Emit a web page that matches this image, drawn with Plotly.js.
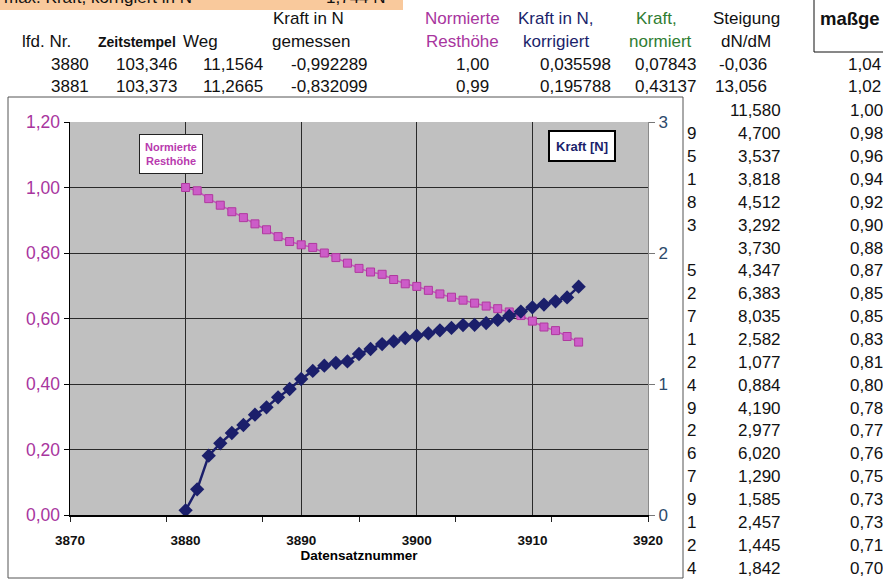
<!DOCTYPE html>
<html><head><meta charset="utf-8">
<script src="https://cdn.plot.ly/plotly-3.0.1.min.js"></script>
<style>html,body{margin:0;padding:0;background:#fff}#chart{width:883px;height:583px}</style>
</head><body><div id="chart"></div>
<script>
// ---------- chart data ----------
const datensatz = [3880,3881,3882,3883,3884,3885,3886,3887,3888,3889,3890,3891,3892,3893,3894,3895,3896,3897,3898,3899,3900,3901,3902,3903,3904,3905,3906,3907,3908,3909,3910,3911,3912,3913,3914];
const resthoehe = [1.00,0.99,0.966,0.946,0.926,0.908,0.889,0.871,0.850,0.835,0.825,0.817,0.800,0.786,0.769,0.753,0.742,0.735,0.719,0.706,0.698,0.686,0.675,0.665,0.656,0.647,0.638,0.630,0.620,0.609,0.592,0.574,0.563,0.545,0.528];
const kraftKorr = [0.0356,0.1958,0.453,0.547,0.626,0.687,0.766,0.822,0.898,0.962,1.038,1.100,1.140,1.162,1.172,1.229,1.267,1.305,1.325,1.351,1.369,1.386,1.410,1.428,1.450,1.452,1.465,1.489,1.520,1.553,1.585,1.606,1.631,1.661,1.743];
const xTicks = [3870,3880,3890,3900,3910,3920];
const yLeftTicks = [0,0.2,0.4,0.6,0.8,1.0,1.2];
const yRightTicks = [0,1,2,3];

// ---------- spreadsheet text ----------
const barTitle = 'max. Kraft, korrigiert in N';
const barValue = '1,744 N';
const headLine1 = ['Kraft in N','Normierte','Kraft in N,','Kraft,','Steigung','maßge'];
const headLine2 = ['lfd. Nr.','Zeitstempel','Weg','gemessen','Resthöhe','korrigiert','normiert','dN/dM'];
const rowNr = ['3880','3881'];
const zeitstempel = ['103,346','103,373'];
const weg = ['11,1564','11,2665'];
const kraftGemessen = ['-0,992289','-0,832099'];
const resthoeheTxt = ['1,00','0,99'];
const kraftKorrTxt = ['0,035598','0,195788'];
const kraftNormTxt = ['0,07843','0,43137'];
const steigungTop = ['-0,036','13,056'];
const massgTop = ['1,04','1,02'];
const steigungLow = ['11,580','4,700','3,537','3,818','4,512','3,292','3,730','4,347','6,383','8,035','2,582','1,077','0,884','4,190','2,977','6,020','1,290','1,585','2,457','1,445','1,842'];
const massgLow = ['1,00','0,98','0,96','0,94','0,92','0,90','0,88','0,87','0,85','0,85','0,83','0,81','0,80','0,78','0,77','0,76','0,75','0,73','0,73','0,71','0,70'];
const kraftNormTail = ['','9','5','1','8','3','','5','2','7','1','2','4','9','2','6','7','9','1','2','4'];
const legendPink = 'Normierte<br>Resthöhe';
const legendBlue = 'Kraft [N]';

// ---------- geometry helpers ----------
const L=70, R=235, T=122, B=68, W=883-L-R, H=583-T-B;
const px = x => (x-L)/W;
const py = y => 1-(y-T)/H;
const FONT = 'Liberation Sans, Arial, sans-serif';
const PINK = '#c453bd', PINKTXT = '#a8359e', NAVY = '#1b1f6b', GREEN = '#2f7d32';
function txt(text, x, y, o={}) {
  return {text, x:px(x), y:py(y), xref:'paper', yref:'paper', showarrow:false,
    xanchor:o.anchor||'left', yanchor:'middle', borderpad:0, borderwidth:0,
    font:{family:FONT, size:o.size||17, color:o.color||'#111', weight:o.bold?'bold':'normal'}};
}

const ann = [];
// orange bar text (cut at top, as in the screenshot)
ann.push(txt(barTitle, 4, -3, {size:17}));
ann.push(txt(barValue, 386, -3, {size:17, anchor:'right'}));
// header line 1
ann.push(txt(headLine1[0], 273, 18));
ann.push(txt(headLine1[1], 462, 18, {anchor:'center', color:PINKTXT}));
ann.push(txt(headLine1[2], 556, 18, {anchor:'center', color:NAVY}));
ann.push(txt(headLine1[3], 656, 18, {anchor:'center', color:GREEN}));
ann.push(txt(headLine1[4], 746, 18, {anchor:'center'}));
ann.push(txt(headLine1[5], 820, 18, {bold:true, size:18.5}));
// header line 2
ann.push(txt(headLine2[0], 22, 42));
ann.push(txt(headLine2[1], 98, 42, {size:14, bold:true}));
ann.push(txt(headLine2[2], 183, 42));
ann.push(txt(headLine2[3], 272, 42));
ann.push(txt(headLine2[4], 462, 42, {anchor:'center', color:PINKTXT}));
ann.push(txt(headLine2[5], 556, 42, {anchor:'center', color:NAVY}));
ann.push(txt(headLine2[6], 660, 42, {anchor:'center', color:GREEN}));
ann.push(txt(headLine2[7], 746, 42, {anchor:'center'}));
// top data rows
const topCols = [[rowNr,89],[zeitstempel,177],[weg,263],[kraftGemessen,368],[resthoeheTxt,489],[kraftKorrTxt,611],[kraftNormTxt,696],[steigungTop,767],[massgTop,881]];
for (let r=0;r<2;r++) {
  const y = 64 + 22.5*r;
  topCols.forEach(([arr,xr]) => ann.push(txt(arr[r], xr, y, {anchor:'right'})));
}
// rows to the right of the chart
for (let i=0;i<steigungLow.length;i++) {
  const y = 111 + 22.85*i;
  ann.push(txt(steigungLow[i], 781, y, {anchor:'right'}));
  ann.push(txt(massgLow[i], 883, y, {anchor:'right'}));
  if (kraftNormTail[i]) ann.push(txt(kraftNormTail[i], 696, y, {anchor:'right'}));
}
// chart legend boxes
ann.push(Object.assign(txt(legendPink, 170.5, 154, {anchor:'center', size:11, bold:true, color:'#b83aae'}),
  {bgcolor:'#fff', bordercolor:'#222', borderwidth:1, borderpad:2, width:58, height:34}));
ann.push(Object.assign(txt(legendBlue, 581.5, 146, {anchor:'center', size:13, bold:true, color:NAVY}),
  {bgcolor:'#fff', bordercolor:'#000', borderwidth:2, borderpad:2, width:60, height:24}));

const shapes = [
  // orange bar
  {type:'rect', xref:'paper', yref:'paper', x0:px(0), x1:px(403), y0:py(-5), y1:py(10), fillcolor:'#f9c99c', line:{width:0}, layer:'below'},
  // cell box for "maßge"
  {type:'rect', xref:'paper', yref:'paper', x0:px(814), x1:px(900), y0:py(-5), y1:py(52), fillcolor:'rgba(0,0,0,0)', line:{color:'#111', width:1}, layer:'below'},
  // chart frame
  {type:'rect', xref:'paper', yref:'paper', x0:px(8), x1:px(683), y0:py(97), y1:py(578), fillcolor:'rgba(0,0,0,0)', line:{color:'#555', width:1}, layer:'below'}
];

const traces = [
  {x:datensatz, y:resthoehe, type:'scatter', mode:'lines+markers', name:'Normierte Resthöhe', yaxis:'y',
   line:{color:PINK, width:1.5}, marker:{symbol:'square', size:8, color:'#cc5cc8', line:{color:'#b0389f', width:1}}},
  {x:datensatz, y:kraftKorr, type:'scatter', mode:'lines+markers', name:'Kraft [N]', yaxis:'y2',
   line:{color:NAVY, width:2.5}, marker:{symbol:'diamond', size:11, color:NAVY}}
];

const layout = {
  width:883, height:583, margin:{l:L, r:R, t:T, b:B, pad:0},
  paper_bgcolor:'#fff', plot_bgcolor:'#c0c0c0', showlegend:false, separators:',.',
  font:{family:FONT, color:'#111'},
  xaxis:{range:[3870,3920], tickmode:'array', tickvals:xTicks, ticks:'', showgrid:true, gridcolor:'#2a2a2a', gridwidth:1,
    showline:true, linecolor:'#000', linewidth:1.5, zeroline:false, ticklabelstandoff:12,
    tickfont:{size:13.5, weight:'bold', color:'#111'},
    minor:{tick0:3870, dtick:50/6, ticks:'outside', ticklen:5, tickcolor:'#222', showgrid:false},
    title:{text:'Datensatznummer', font:{size:13.5, weight:'bold', color:'#000'}, standoff:2}},
  yaxis:{range:[0,1.2], tickmode:'array', tickvals:yLeftTicks, tickformat:'.2f', ticks:'outside', ticklen:5, tickcolor:'#000',
    showgrid:true, gridcolor:'#2a2a2a', gridwidth:1, showline:true, linecolor:'#000', linewidth:1.5, zeroline:false,
    tickfont:{size:17.5, color:PINKTXT}},
  yaxis2:{range:[0,3], overlaying:'y', side:'right', tickmode:'array', tickvals:yRightTicks, ticks:'outside', ticklen:6, tickcolor:'#777',
    showgrid:false, showline:true, linecolor:'#8a8a8a', linewidth:1, zeroline:false, tickfont:{size:17, color:'#2d4a6b'}},
  shapes, annotations:ann
};
Plotly.newPlot('chart', traces, layout, {staticPlot:true, displayModeBar:false});
</script></body></html>
